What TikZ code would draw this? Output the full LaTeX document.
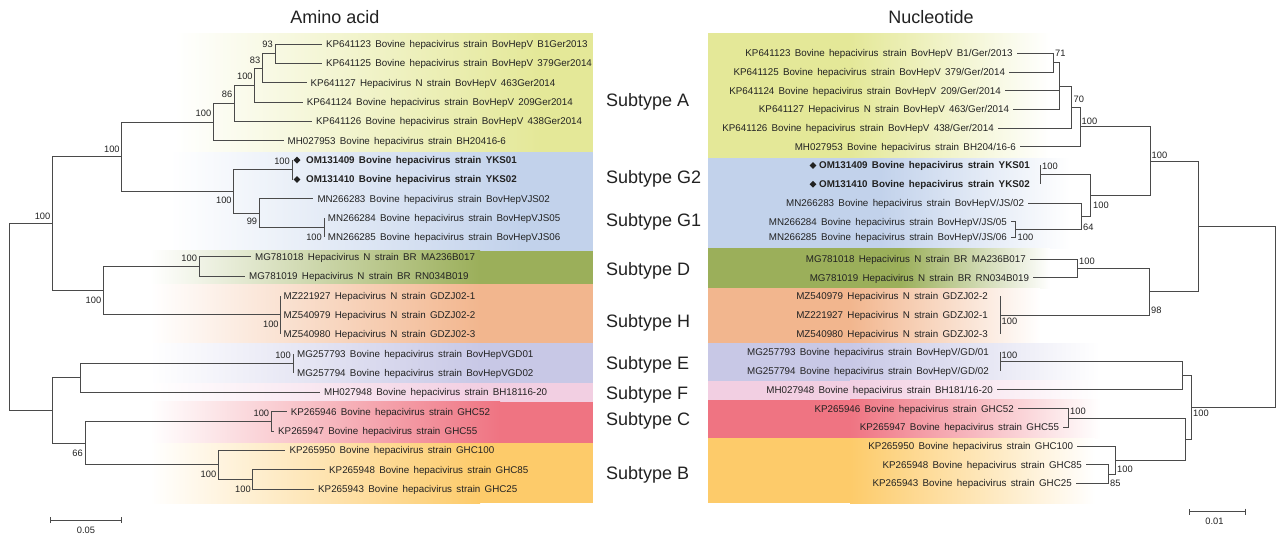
\documentclass[tikz,border=0pt]{standalone}
\usepackage{fontspec}
\setmainfont{Liberation Sans}
\usetikzlibrary{shapes.geometric,arrows.meta}
\definecolor{txt}{HTML}{222222}
\definecolor{lc}{HTML}{4A4A4A}
\definecolor{cA}{RGB}{228,232,152}
\definecolor{cG}{RGB}{194,210,235}
\definecolor{cD}{RGB}{155,175,90}
\definecolor{cH}{RGB}{242,182,142}
\definecolor{cE}{RGB}{200,200,230}
\definecolor{cF}{RGB}{242,207,226}
\definecolor{cC}{RGB}{239,116,130}
\definecolor{cB}{RGB}{253,203,106}
\newcommand\lfnt{\fontsize{9.8}{11}\selectfont\spaceskip=0.44em plus 0.1em minus 0.05em\relax}
\newcommand\bfnt{\fontsize{9.8}{11}\selectfont\bfseries\spaceskip=0.44em plus 0.1em minus 0.05em\relax}
\newcommand\bsfnt{\fontsize{9.3}{10}\selectfont}
\begin{document}
\begin{tikzpicture}[x=1pt,y=-1pt,
  lfl/.style={anchor=west, font=\lfnt, text=txt, inner xsep=4pt, inner ysep=0pt, text height=7pt, text depth=0pt},
  lfr/.style={lfl, anchor=east},
  bld/.style={lfl, font=\bfnt},
  bldr/.style={bld, anchor=east},
  bs/.style={font=\bsfnt, text=txt, inner sep=0pt, text height=6.6pt, text depth=0pt},
  bsl/.style={bs, anchor=east},
  bsr/.style={bs, anchor=west},
  br/.style={draw=lc, line width=0.9pt},
  sub/.style={anchor=west, font=\fontsize{18}{20}\selectfont, text=txt, inner sep=0pt, text height=13pt, text depth=0pt},
  ttl/.style={font=\fontsize{18}{20}\selectfont, text=txt, inner sep=0pt},
  dmd/.style={diamond, fill=txt, inner sep=0pt, minimum size=7pt},
  sbar/.style={draw=lc, line width=0.9pt, {Bar[width=6pt]}-{Bar[width=6pt]}}
]
\useasboundingbox (0,0) rectangle (1277,534);
\fill[white] (0,0) rectangle (1277,534);
% ---------- left bands
\foreach \ya/\yb/\cc/\fa/\fb in {33.3/152.3/cA/175/540, 152.3/250.7/cG/170/520, 250.7/284.3/cD/150/480, 284.3/343.3/cH/150/480, 343.3/383.3/cE/150/480, 383.3/401.7/cF/150/480, 401.7/443.3/cC/150/500, 443.3/503.3/cB/150/480}{
  \fill[left color=white, right color=\cc] (\fa,\ya) rectangle (\fb,\yb);
  \fill[\cc] (\fb-0.5,\ya) rectangle (593.3,\yb);
}
% ---------- right bands
\foreach \ya/\yb/\cc/\fa/\fb in {33.3/158.3/cA/850/1050, 158.3/248.3/cG/880/1070, 248.3/288.3/cD/900/1050, 288.3/343.3/cH/850/1040, 343.3/381/cE/850/1100, 381/400/cF/850/1100, 400/438.3/cC/850/1100, 438.3/503.3/cB/850/1095}{
  \fill[\cc] (708.3,\ya) rectangle (\fa+0.5,\yb);
  \fill[left color=\cc, right color=white] (\fa,\ya) rectangle (\fb,\yb);
}
% ---------- titles and subtype labels
\node[ttl] (tAA) at (335,17.5) {Amino acid};
\node[ttl] (tNT) at (931,17.5) {Nucleotide};
\node[sub] (sA) at (606,100) {Subtype A};
\node[sub] (sG2) at (606,176.7) {Subtype G2};
\node[sub] (sG1) at (606,220) {Subtype G1};
\node[sub] (sD) at (606,269) {Subtype D};
\node[sub] (sH) at (606,321) {Subtype H};
\node[sub] (sE) at (606,362.7) {Subtype E};
\node[sub] (sF) at (606,392.7) {Subtype F};
\node[sub] (sC) at (606,419.3) {Subtype C};
\node[sub] (sB) at (606,472.7) {Subtype B};
% ================= LEFT TREE (amino acid)
\node[lfl] (L0) at (321.8,44.0) {KP641123 Bovine hepacivirus strain BovHepV B1Ger2013};
\node[lfl] (L1) at (321.8,63.35) {KP641125 Bovine hepacivirus strain BovHepV 379Ger2014};
\node[lfl] (L2) at (306.5,82.7) {KP641127 Hepacivirus N strain BovHepV 463Ger2014};
\node[lfl] (L3) at (302.7,102.05) {KP641124 Bovine hepacivirus strain BovHepV 209Ger2014};
\node[lfl] (L4) at (312,121.4) {KP641126 Bovine hepacivirus strain BovHepV 438Ger2014};
\node[lfl] (L5) at (283.5,140.75) {MH027953 Bovine hepacivirus strain BH20416-6};
\node[dmd] (D6) at (297,160.1) {};
\node[dmd] (D7) at (297,179.45) {};
\node[bld] (L6) at (302,160.1) {OM131409 Bovine hepacivirus strain YKS01};
\node[bld] (L7) at (302,179.45) {OM131410 Bovine hepacivirus strain YKS02};
\node[lfl] (L8) at (313.3,198.8) {MN266283 Bovine hepacivirus strain BovHepVJS02};
\node[lfl, inner xsep=3.7pt] (L9) at (324,218.15) {MN266284 Bovine hepacivirus strain BovHepVJS05};
\node[lfl, inner xsep=3.7pt] (L10) at (324,237.5) {MN266285 Bovine hepacivirus strain BovHepVJS06};
\node[lfl] (L11) at (251,256.85) {MG781018 Hepacivirus N strain BR MA236B017};
\node[lfl] (L12) at (245,276.2) {MG781019 Hepacivirus N strain BR RN034B019};
\node[lfl, inner xsep=2.7pt] (L13) at (280.8,295.55) {MZ221927 Hepacivirus N strain GDZJ02-1};
\node[lfl, inner xsep=2.7pt] (L14) at (280.8,314.9) {MZ540979 Hepacivirus N strain GDZJ02-2};
\node[lfl, inner xsep=2.7pt] (L15) at (280.8,334.25) {MZ540980 Hepacivirus N strain GDZJ02-3};
\node[lfl] (L16) at (293,353.6) {MG257793 Bovine hepacivirus strain BovHepVGD01};
\node[lfl] (L17) at (293,372.95) {MG257794 Bovine hepacivirus strain BovHepVGD02};
\node[lfl] (L18) at (320,392.3) {MH027948 Bovine hepacivirus strain BH18116-20};
\node[lfl] (L19) at (286.6,411.65) {KP265946 Bovine hepacivirus strain GHC52};
\node[lfl] (L20) at (274,431.0) {KP265947 Bovine hepacivirus strain GHC55};
\node[lfl] (L21) at (285.4,450.35) {KP265950 Bovine hepacivirus strain GHC100};
\node[lfl] (L22) at (325,469.7) {KP265948 Bovine hepacivirus strain GHC85};
\node[lfl] (L23) at (314,489.05) {KP265943 Bovine hepacivirus strain GHC25};
\coordinate (n93) at (275,53.7);
\coordinate (n83) at (262.5,68.2);
\coordinate (n100a) at (254.8,85.1);
\coordinate (n86) at (234.5,103.25);
\coordinate (nA) at (213.4,122.0);
\coordinate (nOM) at (292,169.8);
\coordinate (nMN) at (324,227.8);
\coordinate (n99) at (259.3,213.3);
\coordinate (nG) at (233.8,191.55);
\coordinate (nAG) at (121.8,156.8);
\coordinate (nD) at (199.2,266.5);
\coordinate (nH) at (280.8,314.9);
\coordinate (nDH) at (103.4,290.7);
\coordinate (nC1) at (52.5,223.75);
\coordinate (nE) at (293,363.3);
\coordinate (nEF) at (80.5,377.8);
\coordinate (nC) at (271.3,421.3);
\coordinate (nB2) at (252.9,479.4);
\coordinate (nB) at (218.4,464.9);
\coordinate (nCB) at (85,443.1);
\coordinate (nC2) at (52.5,410.45);
\coordinate (nR) at (9.6,317.1);
\draw[br] (n93) |- (L0.west) (n93) |- (L1.west);
\draw[br] (n83) |- (n93) (n83) |- (L2.west);
\draw[br] (n100a) |- (n83) (n100a) |- (L3.west);
\draw[br] (n86) |- (n100a) (n86) |- (L4.west);
\draw[br] (nA) |- (n86) (nA) |- (L5.west);
\draw[br] (nOM) |- (D6.west) (nOM) |- (D7.west);
\draw[br] (nMN) |- (L9.west) (nMN) |- (L10.west);
\draw[br] (n99) |- (L8.west) (n99) |- (nMN);
\draw[br] (nG) |- (nOM) (nG) |- (n99);
\draw[br] (nAG) |- (nA) (nAG) |- (nG);
\draw[br] (nD) |- (L11.west) (nD) |- (L12.west);
\draw[br] (nH) |- (L13.west) (nH) |- (L15.west);
\draw[br] (nDH) |- (nD) (nDH) |- (nH);
\draw[br] (nC1) |- (nAG) (nC1) |- (nDH);
\draw[br] (nE) |- (L16.west) (nE) |- (L17.west);
\draw[br] (nEF) |- (nE) (nEF) |- (L18.west);
\draw[br] (nC) |- (L19.west) (nC) |- (L20.west);
\draw[br] (nB2) |- (L22.west) (nB2) |- (L23.west);
\draw[br] (nB) |- (L21.west) (nB) |- (nB2);
\draw[br] (nCB) |- (nC) (nCB) |- (nB);
\draw[br] (nC2) |- (nEF) (nC2) |- (nCB);
\draw[br] (nR) |- (nC1) (nR) |- (nC2);
% left bootstrap values
\node[bsl] (b1) at (273,44.3) {93};
\node[bsl] (b2) at (260.5,60) {83};
\node[bsl] (b3) at (252.8,76) {100};
\node[bsl] (b4) at (232.5,94.3) {86};
\node[bsl] (b5) at (211.4,113.3) {100};
\node[bsl] (b6) at (119.8,149.3) {100};
\node[bsl] (b7) at (50.5,216) {100};
\node[bsl] (b8) at (290,161.7) {100};
\node[bsl] (b9) at (231.8,200.7) {100};
\node[bsl] (b10) at (257.3,221.7) {99};
\node[bsl] (b11) at (322,237.3) {100};
\node[bsl] (b12) at (197.2,258.3) {100};
\node[bsl] (b13) at (101.4,300) {100};
\node[bsl] (b14) at (278.8,324.3) {100};
\node[bsl] (b15) at (291,355.7) {100};
\node[bsl] (b16) at (269.3,413.3) {100};
\node[bsl] (b17) at (83,452.7) {66};
\node[bsl] (b18) at (216.4,474.3) {100};
\node[bsl] (b19) at (250.9,489.3) {100};
% left scale bar
\coordinate (sl1) at (49.8,520);
\coordinate (sl2) at (121.8,520);
\draw[sbar] (sl1) -- (sl2);
\node[bs] (slt) at (86,530) {0.05};
% ================= RIGHT TREE (nucleotide)
\node[lfr] (R0) at (1016.7,53.3) {KP641123 Bovine hepacivirus strain BovHepV B1/Ger/2013};
\node[lfr] (R1) at (1009.3,72.0) {KP641125 Bovine hepacivirus strain BovHepV 379/Ger/2014};
\node[lfr] (R2) at (1005,90.7) {KP641124 Bovine hepacivirus strain BovHepV 209/Ger/2014};
\node[lfr] (R3) at (1013.3,109.4) {KP641127 Hepacivirus N strain BovHepV 463/Ger/2014};
\node[lfr] (R4) at (998,128.1) {KP641126 Bovine hepacivirus strain BovHepV 438/Ger/2014};
\node[lfr] (R5) at (1020,146.8) {MH027953 Bovine hepacivirus strain BH204/16-6};
\node[bldr, inner xsep=10pt] (R6) at (1040,165.5) {OM131409 Bovine hepacivirus strain YKS01};
\node[bldr, inner xsep=10pt] (R7) at (1040,184.2) {OM131410 Bovine hepacivirus strain YKS02};
\node[dmd] (RD6) at ([xshift=4pt]R6.west) {};
\node[dmd] (RD7) at ([xshift=4pt]R7.west) {};
\node[lfr] (R8) at (1028.3,203.5) {MN266283 Bovine hepacivirus strain BovHepV/JS/02};
\node[lfr] (R9) at (1011,221.6) {MN266284 Bovine hepacivirus strain BovHepV/JS/05};
\node[lfr] (R10) at (1011,237.5) {MN266285 Bovine hepacivirus strain BovHepV/JS/06};
\node[lfr] (R11) at (1030,259.0) {MG781018 Hepacivirus N strain BR MA236B017};
\node[lfr] (R12) at (1033.3,277.7) {MG781019 Hepacivirus N strain BR RN034B019};
\node[lfr, inner xsep=12pt] (R13) at (1000,296.4) {MZ540979 Hepacivirus N strain GDZJ02-2};
\node[lfr, inner xsep=12pt] (R14) at (1000,315.1) {MZ221927 Hepacivirus N strain GDZJ02-1};
\node[lfr, inner xsep=12pt] (R15) at (1000,333.8) {MZ540980 Hepacivirus N strain GDZJ02-3};
\node[lfr, inner xsep=11pt] (R16) at (1000,352.5) {MG257793 Bovine hepacivirus strain BovHepV/GD/01};
\node[lfr, inner xsep=11pt] (R17) at (1000,371.2) {MG257794 Bovine hepacivirus strain BovHepV/GD/02};
\node[lfr] (R18) at (997,389.9) {MH027948 Bovine hepacivirus strain BH181/16-20};
\node[lfr] (R19) at (1018,408.6) {KP265946 Bovine hepacivirus strain GHC52};
\node[lfr] (R20) at (1063.3,427.3) {KP265947 Bovine hepacivirus strain GHC55};
\node[lfr] (R21) at (1077.3,446.0) {KP265950 Bovine hepacivirus strain GHC100};
\node[lfr] (R22) at (1086,464.7) {KP265948 Bovine hepacivirus strain GHC85};
\node[lfr] (R23) at (1076,483.4) {KP265943 Bovine hepacivirus strain GHC25};
\coordinate (m71) at (1053.3,62.65);
\coordinate (mP) at (1059.3,86.03);
\coordinate (m70) at (1071.7,107.07);
\coordinate (mA) at (1080,126.93);
\coordinate (mOM) at (1040,174.85);
\coordinate (mMN) at (1015,229.55);
\coordinate (m64) at (1081,216.5);
\coordinate (mG) at (1090.7,195.7);
\coordinate (mAG) at (1150,161.3);
\coordinate (mD) at (1077.3,268.35);
\coordinate (mH) at (1000,315.1);
\coordinate (mDH) at (1149,291.73);
\coordinate (mT) at (1198.3,226.5);
\coordinate (mE) at (1000,361.85);
\coordinate (mEF) at (1182.3,375.88);
\coordinate (mC) at (1068.3,417.95);
\coordinate (mB2) at (1108.3,474.05);
\coordinate (mB) at (1115,460.03);
\coordinate (mCB) at (1185.7,438.99);
\coordinate (mBot) at (1191,407.43);
\coordinate (mR) at (1275,317);
\draw[br] (m71) |- (R0.east) (m71) |- (R1.east);
\draw[br] (mP) |- (m71) (mP) |- (R2.east) (mP) |- (R3.east);
\draw[br] (m70) |- (mP) (m70) |- (R4.east);
\draw[br] (mA) |- (m70) (mA) |- (R5.east);
\draw[br] (mOM) |- (R6.east) (mOM) |- (R7.east);
\draw[br] (mMN) |- (R9.east) (mMN) |- (R10.east);
\draw[br] (m64) |- (R8.east) (m64) |- (mMN);
\draw[br] (mG) |- (mOM) (mG) |- (m64);
\draw[br] (mAG) |- (mA) (mAG) |- (mG);
\draw[br] (mD) |- (R11.east) (mD) |- (R12.east);
\draw[br] (mH) |- (R13.east) (mH) |- (R15.east);
\draw[br] (mDH) |- (mD) (mDH) |- (mH);
\draw[br] (mT) |- (mAG) (mT) |- (mDH);
\draw[br] (mE) |- (R16.east) (mE) |- (R17.east);
\draw[br] (mEF) |- (mE) (mEF) |- (R18.east);
\draw[br] (mC) |- (R19.east) (mC) |- (R20.east);
\draw[br] (mB2) |- (R22.east) (mB2) |- (R23.east);
\draw[br] (mB) |- (R21.east) (mB) |- (mB2);
\draw[br] (mCB) |- (mC) (mCB) |- (mB);
\draw[br] (mBot) |- (mEF) (mBot) |- (mCB);
\draw[br] (mR) |- (mT) (mR) |- (mBot);
% right bootstrap values
\node[bsr] (c1) at (1055,53.3) {71};
\node[bsr] (c2) at (1073.5,99.3) {70};
\node[bsr] (c3) at (1081.5,121) {100};
\node[bsr] (c4) at (1151.5,155) {100};
\node[bsr] (c5) at (1042,166) {100};
\node[bsr] (c6) at (1093,205) {100};
\node[bsr] (c7) at (1083,227) {64};
\node[bsr] (c8) at (1017.5,237.5) {100};
\node[bsr] (c9) at (1079,261.7) {100};
\node[bsr] (c10) at (1151,310) {98};
\node[bsr] (c11) at (1001.5,321.7) {100};
\node[bsr] (c12) at (1001.5,355) {100};
\node[bsr] (c13) at (1193,413.3) {100};
\node[bsr] (c14) at (1070,411) {100};
\node[bsr] (c15) at (1117,469.3) {100};
\node[bsr] (c16) at (1110,483.3) {85};
% right scale bar
\coordinate (sr1) at (1188.8,511.7);
\coordinate (sr2) at (1246.3,511.7);
\draw[sbar] (sr1) -- (sr2);
\node[bs] (srt) at (1214.5,521.5) {0.01};
\end{tikzpicture}
\end{document}
